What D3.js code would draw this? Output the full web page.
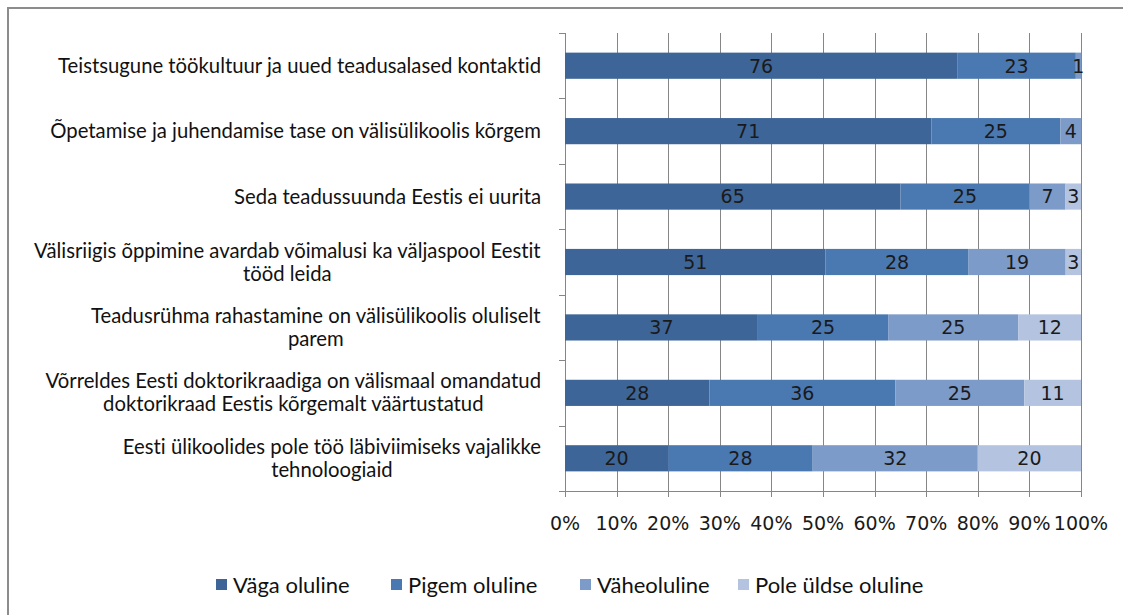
<!DOCTYPE html>
<html>
<head>
<meta charset="utf-8">
<script src="https://cdn.jsdelivr.net/npm/d3@7"></script>
<style>
  body { margin: 0; background: #fff; }
  svg { display: block; font-variant-ligatures: none; }
</style>
</head>
<body>
<div id="chart"></div>
<script>
// Categories (top to bottom), "\n" marks a line break in the label
const categories = [
    "Teistsugune töökultuur ja uued teadusalased kontaktid",
    "Õpetamise ja juhendamise tase on välisülikoolis kõrgem",
    "Seda teadussuunda Eestis ei uurita",
    "Välisriigis õppimine avardab võimalusi ka väljaspool Eestit\ntööd leida",
    "Teadusrühma rahastamine on välisülikoolis oluliselt\nparem",
    "Võrreldes Eesti doktorikraadiga on välismaal omandatud\ndoktorikraad Eestis kõrgemalt väärtustatud",
    "Eesti ülikoolides pole töö läbiviimiseks vajalikke\ntehnoloogiaid"
];

const seriesNames = ["Väga oluline", "Pigem oluline", "Väheoluline", "Pole üldse oluline"];

const vagaOluline   = [76, 71, 65, 51, 37, 28, 20];
const pigemOluline  = [23, 25, 25, 28, 25, 36, 28];
const vaheoluline   = [1, 4, 7, 19, 25, 25, 32];
const poleOluline   = [0, 0, 3, 3, 12, 11, 20];

const xTicks = [0, 0.1, 0.2, 0.3, 0.4, 0.5, 0.6, 0.7, 0.8, 0.9, 1];

const colors = ["#3d6597", "#4a78b1", "#7d9bc8", "#b4c4e0"];

// rows for d3.stack
const seriesValues = [vagaOluline, pigemOluline, vaheoluline, poleOluline];
const rows = categories.map((c, i) => {
    const r = { category: c };
    seriesNames.forEach((s, j) => { r[s] = seriesValues[j][i]; });
    return r;
});

const W = 1123, H = 615;
const plot = { left: 565, right: 1081, top: 33, bottom: 491 };

const svg = d3.select("#chart").append("svg")
    .attr("width", W)
    .attr("height", H);

// outer chart border (right/bottom edges fall outside the picture)
svg.append("rect")
    .attr("x", 8).attr("y", 8)
    .attr("width", W + 20).attr("height", H + 20)
    .attr("fill", "none")
    .attr("stroke", "#8c8c8c")
    .attr("stroke-width", 2);

const x = d3.scaleLinear().domain([0, 1]).range([plot.left, plot.right]);
const y = d3.scaleBand().domain(categories)
    .range([plot.top, plot.bottom])
    .paddingInner(0.6)
    .paddingOuter(0.3);

const stacked = d3.stack()
    .keys(seriesNames)
    .offset(d3.stackOffsetExpand)(rows);

// vertical gridlines
svg.append("g")
    .selectAll("line")
    .data(xTicks)
    .join("line")
    .attr("x1", d => Math.round(x(d)) + 0.5)
    .attr("x2", d => Math.round(x(d)) + 0.5)
    .attr("y1", plot.top)
    .attr("y2", plot.bottom + 6)
    .attr("stroke", "#868686")
    .attr("stroke-width", 1);

// category axis line and ticks at band boundaries
const step = y.step();
const boundaries = d3.range(categories.length + 1).map(i => plot.top + i * step);
svg.append("g")
    .selectAll("line")
    .data(boundaries)
    .join("line")
    .attr("x1", plot.left - 6)
    .attr("x2", plot.left)
    .attr("y1", d => Math.round(d) + 0.5)
    .attr("y2", d => Math.round(d) + 0.5)
    .attr("stroke", "#868686");

svg.append("line")
    .attr("x1", plot.left + 0.5).attr("x2", plot.left + 0.5)
    .attr("y1", plot.top).attr("y2", plot.bottom + 6)
    .attr("stroke", "#868686");

svg.append("line")
    .attr("x1", plot.left).attr("x2", plot.right + 1)
    .attr("y1", plot.bottom + 0.5).attr("y2", plot.bottom + 0.5)
    .attr("stroke", "#868686");

// bars
const layer = svg.append("g")
    .selectAll("g")
    .data(stacked)
    .join("g")
    .attr("fill", (d, i) => colors[i]);

layer.selectAll("rect")
    .data(d => d)
    .join("rect")
    .attr("x", d => x(d[0]))
    .attr("y", d => y(d.data.category))
    .attr("width", d => x(d[1]) - x(d[0]))
    .attr("height", y.bandwidth());

// value labels inside segments
svg.append("g")
    .selectAll("g")
    .data(stacked)
    .join("g")
    .selectAll("text")
    .data(d => d.map(p => ({ p, v: p.data[d.key] })).filter(o => o.v > 0))
    .join("text")
    .attr("x", o => (x(o.p[0]) + x(o.p[1])) / 2)
    .attr("y", o => y(o.p.data.category) + y.bandwidth() / 2)
    .attr("dy", "0.36em")
    .attr("text-anchor", "middle")
    .attr("font-family", "DejaVu Sans")
    .attr("font-size", 19)
    .attr("fill", "#1a1a1a")
    .text(o => o.v);

// x tick labels
svg.append("g")
    .selectAll("text")
    .data(xTicks)
    .join("text")
    .attr("x", d => x(d))
    .attr("y", 530)
    .attr("text-anchor", "middle")
    .attr("font-family", "DejaVu Sans")
    .attr("font-size", 19)
    .attr("fill", "#1a1a1a")
    .text(d => Math.round(d * 100) + "%");

// category labels: block right-aligned, lines centred on each other
const labelRight = 541;
const lineH = 23;
const labelG = svg.append("g")
    .attr("font-family", "Lato")
    .attr("font-size", 20.3)
    .attr("fill", "#111");

categories.forEach(c => {
    const lines = c.split("\n");
    const cy = y(c) + y.bandwidth() / 2;
    const t = labelG.append("text")
        .attr("text-anchor", "middle")
        .attr("x", 0)
        .attr("y", 0);
    lines.forEach((ln, k) => {
        t.append("tspan")
            .attr("x", 0)
            .attr("y", cy + (k - (lines.length - 1) / 2) * lineH)
            .attr("dy", "0.35em")
            .text(ln);
    });
    const w = t.node().getBBox().width;
    t.attr("transform", `translate(${labelRight - w / 2},0)`);
});

// legend
const legendX = [216, 391, 580, 738];
const legend = svg.append("g")
    .selectAll("g")
    .data(seriesNames)
    .join("g")
    .attr("transform", (d, i) => `translate(${legendX[i]},585)`);

legend.append("rect")
    .attr("x", 0).attr("y", -6)
    .attr("width", 11).attr("height", 11)
    .attr("fill", (d, i) => colors[i]);

legend.append("text")
    .attr("x", 17)
    .attr("dy", "0.35em")
    .attr("font-family", "Lato")
    .attr("font-size", 22)
    .attr("fill", "#111")
    .text(d => d);
</script>
</body>
</html>
